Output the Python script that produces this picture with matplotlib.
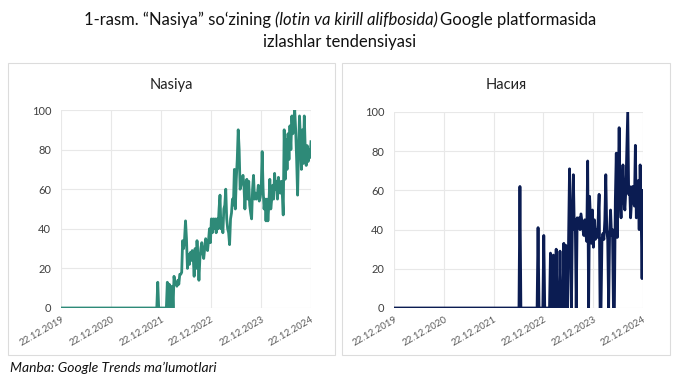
import pandas as pd
import matplotlib.pyplot as plt
from matplotlib.patches import Rectangle

plt.rcParams['font.family'] = ['Lato', 'DejaVu Sans']

# Haftalik qiymatlar (Google Trends, 0-100)
start_date = '2019-12-22'
end_date = '2024-12-22'
tick_dates = ['2019-12-22', '2020-12-22', '2021-12-22', '2022-12-22', '2023-12-22', '2024-12-22']
tick_labels = ['22.12.2019', '22.12.2020', '22.12.2021', '22.12.2022', '22.12.2023', '22.12.2024']

# "Nasiya" (lotin) - 2021-11-21 dan 2024-12-22 gacha, undan oldin 0
nasiya_lat = [
    0, 13, 0, 0, 0, 0, 0, 0, 0, 0,
    0, 13, 0, 12, 8, 0, 11, 0, 16, 12,
    13, 11, 14, 12, 17, 17, 18, 34, 30, 35,
    44, 35, 20, 27, 22, 28, 24, 29, 26, 16,
    30, 20, 34, 25, 14, 25, 30, 33, 28, 25,
    30, 35, 33, 29, 34, 40, 33, 45, 38, 45,
    40, 45, 38, 45, 40, 50, 57, 40, 45, 38,
    50, 52, 60, 45, 40, 38, 32, 45, 48, 55,
    52, 70, 50, 65, 75, 90, 80, 60, 62, 65,
    67, 62, 50, 60, 65, 55, 64, 52, 48, 45,
    60, 67, 55, 58, 55, 57, 62, 54, 56, 60,
    79, 60, 50, 55, 44, 55, 44, 52, 65, 50,
    55, 62, 55, 68, 60, 64, 55, 66, 60, 58,
    64, 58, 47, 90, 65, 85, 70, 88, 75, 92,
    80, 97, 88, 95, 100, 90, 75, 57, 80, 97,
    85, 70, 90, 73, 97, 80, 72, 82, 74, 80,
    76, 84,
]

# "Насия" (kirill) - 2022-06-19 dan 2024-12-22 gacha, undan oldin 0
nasiya_cyr = [
    0, 0, 62, 0, 0, 0, 0, 0, 0, 0,
    0, 0, 0, 0, 0, 0, 0, 0, 0, 0,
    0, 41, 0, 0, 0, 0, 0, 37, 0, 0,
    0, 0, 0, 0, 28, 0, 0, 27, 0, 0,
    30, 0, 0, 0, 29, 0, 0, 0, 33, 0,
    32, 0, 0, 35, 71, 40, 0, 45, 68, 40,
    45, 0, 46, 45, 46, 40, 48, 44, 40, 37,
    45, 38, 34, 75, 0, 57, 45, 33, 50, 31,
    45, 35, 40, 36, 45, 58, 0, 0, 35, 38,
    35, 45, 68, 40, 35, 0, 38, 50, 37, 40,
    0, 0, 55, 79, 36, 60, 92, 55, 46, 60,
    73, 55, 50, 60, 80, 100, 58, 62, 46, 55,
    62, 55, 52, 83, 46, 55, 65, 40, 73, 50,
    15, 60,
]
lead_value = 0


def weekly(vals):
    d = pd.date_range(end=end_date, periods=len(vals), freq='7D')
    return [pd.Timestamp(start_date)] + list(d), [lead_value] + list(vals)


W, H = 680, 381
fig = plt.figure(figsize=(W / 100, H / 100), dpi=100)

# panel ramkalari
for x0, x1 in [(8, 335), (342, 670)]:
    fig.patches.append(Rectangle((x0 / W, 1 - 355 / H), (x1 - x0) / W, (355 - 63) / H,
                                 transform=fig.transFigure, fill=False,
                                 edgecolor='#dcdcdc', lw=0.8))

panels = [
    ('Nasiya', nasiya_lat, '#2e8a78', [61 / W, 1 - 308 / H, 250 / W, 198 / H], 171.5),
    ('Насия', nasiya_cyr, '#0b1c52', [394 / W, 1 - 308 / H, 249 / W, 196 / H], 506),
]

for name, vals, col, rect, cx in panels:
    ax = fig.add_axes(rect)
    x, y = weekly(vals)
    ax.plot(x, y, color=col, lw=2.0)
    ax.set_xlim(pd.Timestamp(start_date), pd.Timestamp(end_date))
    ax.set_ylim(0, 100)
    ax.set_yticks(range(0, 101, 20))
    ax.set_xticks(pd.to_datetime(tick_dates))
    ax.set_xticklabels(tick_labels, rotation=30, ha='right', rotation_mode='anchor')
    ax.tick_params(axis='y', length=0, labelsize=8, colors='#404040', pad=7)
    ax.tick_params(axis='x', length=0, labelsize=7, colors='#595959', pad=5)
    ax.grid(True, color='#e8e8e8', lw=0.8)
    ax.set_axisbelow(True)
    for s in ax.spines.values():
        s.set_visible(False)
    fig.text(cx / W, 1 - 85 / H, name, ha='center', va='center', fontsize=10.5, color='#222222')

# sarlavha
r = fig.canvas.get_renderer()
parts = [('1-rasm. “Nasiya” so‘zining', 'normal', 4),
         ('(lotin va kirill alifbosida)', 'italic', 2),
         ('Google platformasida', 'normal', 0)]
texts = []
for s, st, gap in parts:
    texts.append(fig.text(0, 1 - 25 / H, s, style=st, fontsize=12, va='baseline', color='#111111'))
widths = [t.get_window_extent(r).width for t in texts]
total = sum(widths) + sum(p[2] for p in parts)
xx = 340 - total / 2
for t, w, p in zip(texts, widths, parts):
    t.set_x(xx / W)
    xx += w + p[2]
fig.text(340 / W, 1 - 47 / H, 'izlashlar tendensiyasi', ha='center', va='baseline',
         fontsize=12, color='#111111')

fig.text(10 / W, 1 - 372 / H, 'Manba: Google Trends ma’lumotlari', style='italic',
         fontsize=10, va='baseline', color='#111111')

fig.savefig('out.png', dpi=100, facecolor='white')
